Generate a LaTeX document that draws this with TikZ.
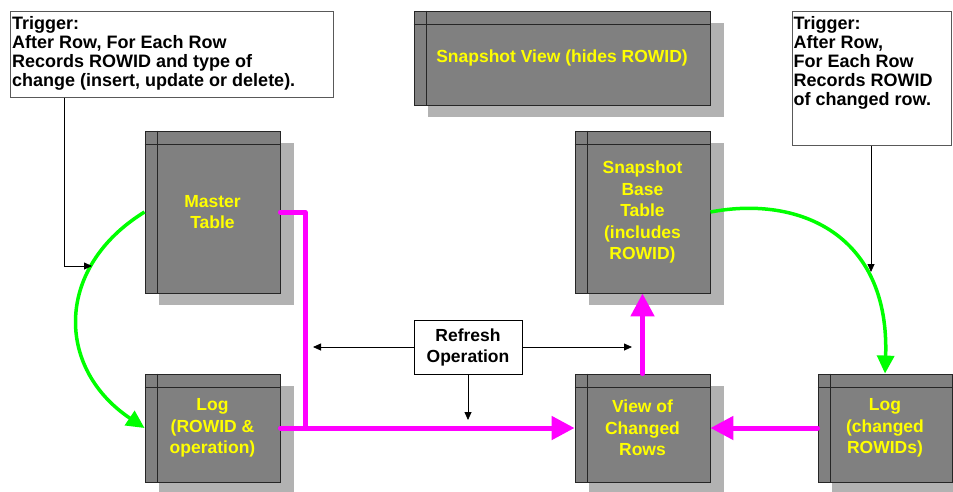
\documentclass[tikz,border=0pt]{standalone}
\usepackage{fontspec}
\setmainfont{Liberation Sans}
\usetikzlibrary{arrows.meta,shadows}

\definecolor{tablegray}{RGB}{128,128,128}
\definecolor{shadowgray}{RGB}{178,178,178}
\definecolor{labelyellow}{RGB}{255,255,0}
\definecolor{flowmagenta}{RGB}{255,0,255}
\definecolor{trigreen}{RGB}{0,255,0}

\newcommand\tblfont{\fontsize{17.5}{21.5}\selectfont\bfseries}
\newcommand\trigfont{\fontsize{18}{19}\selectfont\bfseries}

% a table symbol: header row and key column drawn over the body
\newcommand\tablelines[1]{%
  \draw[tableline] ([xshift=13pt]#1.north west) -- ([xshift=13pt]#1.south west)
                   ([yshift=-13.5pt]#1.north west) -- ([yshift=-13.5pt]#1.north east);}

\tikzset{
  tablebox/.style={draw=black!85, line width=0.9pt, fill=tablegray,
    text=labelyellow, font=\tblfont, align=center, inner sep=0pt,
    general shadow={fill=shadowgray, shadow xshift=14pt, shadow yshift=-12pt}},
  tableline/.style={draw=black!85, line width=0.9pt},
  notebox/.style={draw=black!65, line width=1pt, fill=white, inner sep=0pt},
  notetext/.style={font=\trigfont, align=left, inner sep=0pt, text=black, anchor=north west},
  thinarrow/.style={draw=black, line width=0.8pt, -{Triangle[length=8pt,width=7pt]}},
  flow/.style={draw=flowmagenta, line width=5pt, line cap=round, line join=round},
  flowarrow/.style={flow, -{Triangle[length=23pt,width=23pt]}},
  greenarrow/.style={draw=trigreen, line width=3.5pt, -{Triangle[length=18pt,width=17pt]}},
}

\begin{document}
\begin{tikzpicture}[x=1pt, y=-1pt]
\useasboundingbox (0,0) rectangle (953,491);

% tables
\node[tablebox, minimum width=296pt, minimum height=94pt] (sview) at (562,58)
  {Snapshot View (hides ROWID)};
\tablelines{sview}
\node[tablebox, minimum width=135pt, minimum height=162pt] (master) at (212.5,212)
  {Master\\Table};
\tablelines{master}
\node[tablebox, minimum width=135pt, minimum height=162pt] (base) at (642.5,212)
  {Snapshot\\Base\\Table\\(includes\\ROWID)};
\tablelines{base}
\node[tablebox, minimum width=135pt, minimum height=108pt] (leftlog) at (212.5,428)
  {Log\\(ROWID \&\\operation)};
\tablelines{leftlog}
\node[tablebox, minimum width=135pt, minimum height=108pt] (view) at (642.5,428)
  {View of\\Changed\\Rows};
\tablelines{view}
\node[tablebox, minimum width=134pt, minimum height=108pt] (rightlog) at (885,428)
  {Log\\(changed\\ROWIDs)};
\tablelines{rightlog}

% trigger notes
\node[notebox, minimum width=323pt, minimum height=86pt] (trigL) at (171.5,54) {};
\node[notetext] (trigLtxt) at ([shift={(2.5pt,-5.5pt)}]trigL.north west)
  {Trigger:\\After Row, For Each Row\\Records ROWID and type of\\change (insert, update or delete).};
\node[notebox, minimum width=159pt, minimum height=134pt] (trigR) at (871.5,78) {};
\node[notetext] (trigRtxt) at ([shift={(2pt,-5.5pt)}]trigR.north west)
  {Trigger:\\After Row,\\For Each Row\\Records ROWID\\of changed row.};

% refresh operation
\node[notebox, draw=black, minimum width=108pt, minimum height=54pt,
      font=\fontsize{17.5}{21}\selectfont\bfseries, align=center] (refresh) at (468,347)
  {Refresh\\Operation};

% free ends of the thin connectors
\coordinate (tapL) at (92,266);
\coordinate (tapR) at (871,272);
\coordinate (refL) at (313,347);
\coordinate (refR) at (632,347);
\coordinate (refD) at (468,420);
\coordinate (bend) at (305,428);

% green trigger flows
\draw[greenarrow] (master.west) .. controls (55,267) and (55,368) .. (leftlog.west);
\draw[greenarrow] (base.east) .. controls (800,195) and (890,235) .. (rightlog.north);

% thin connectors
\draw[thinarrow] ([xshift=55pt]trigL.south west) |- (tapL);
\draw[thinarrow] (tapR |- trigR.south) -- (tapR);
\draw[thinarrow] (refresh.west) -- (refL);
\draw[thinarrow] (refresh.east) -- (refR);
\draw[thinarrow] (refresh.south) -- (refD);

% magenta data flows
\draw[flow] (master.east) -| (bend);
\draw[flowarrow] (leftlog.east) -- (view.west);
\draw[flowarrow] (view.north) -- (base.south);
\draw[flowarrow] (rightlog.west) -- (view.east);
\end{tikzpicture}
\end{document}
